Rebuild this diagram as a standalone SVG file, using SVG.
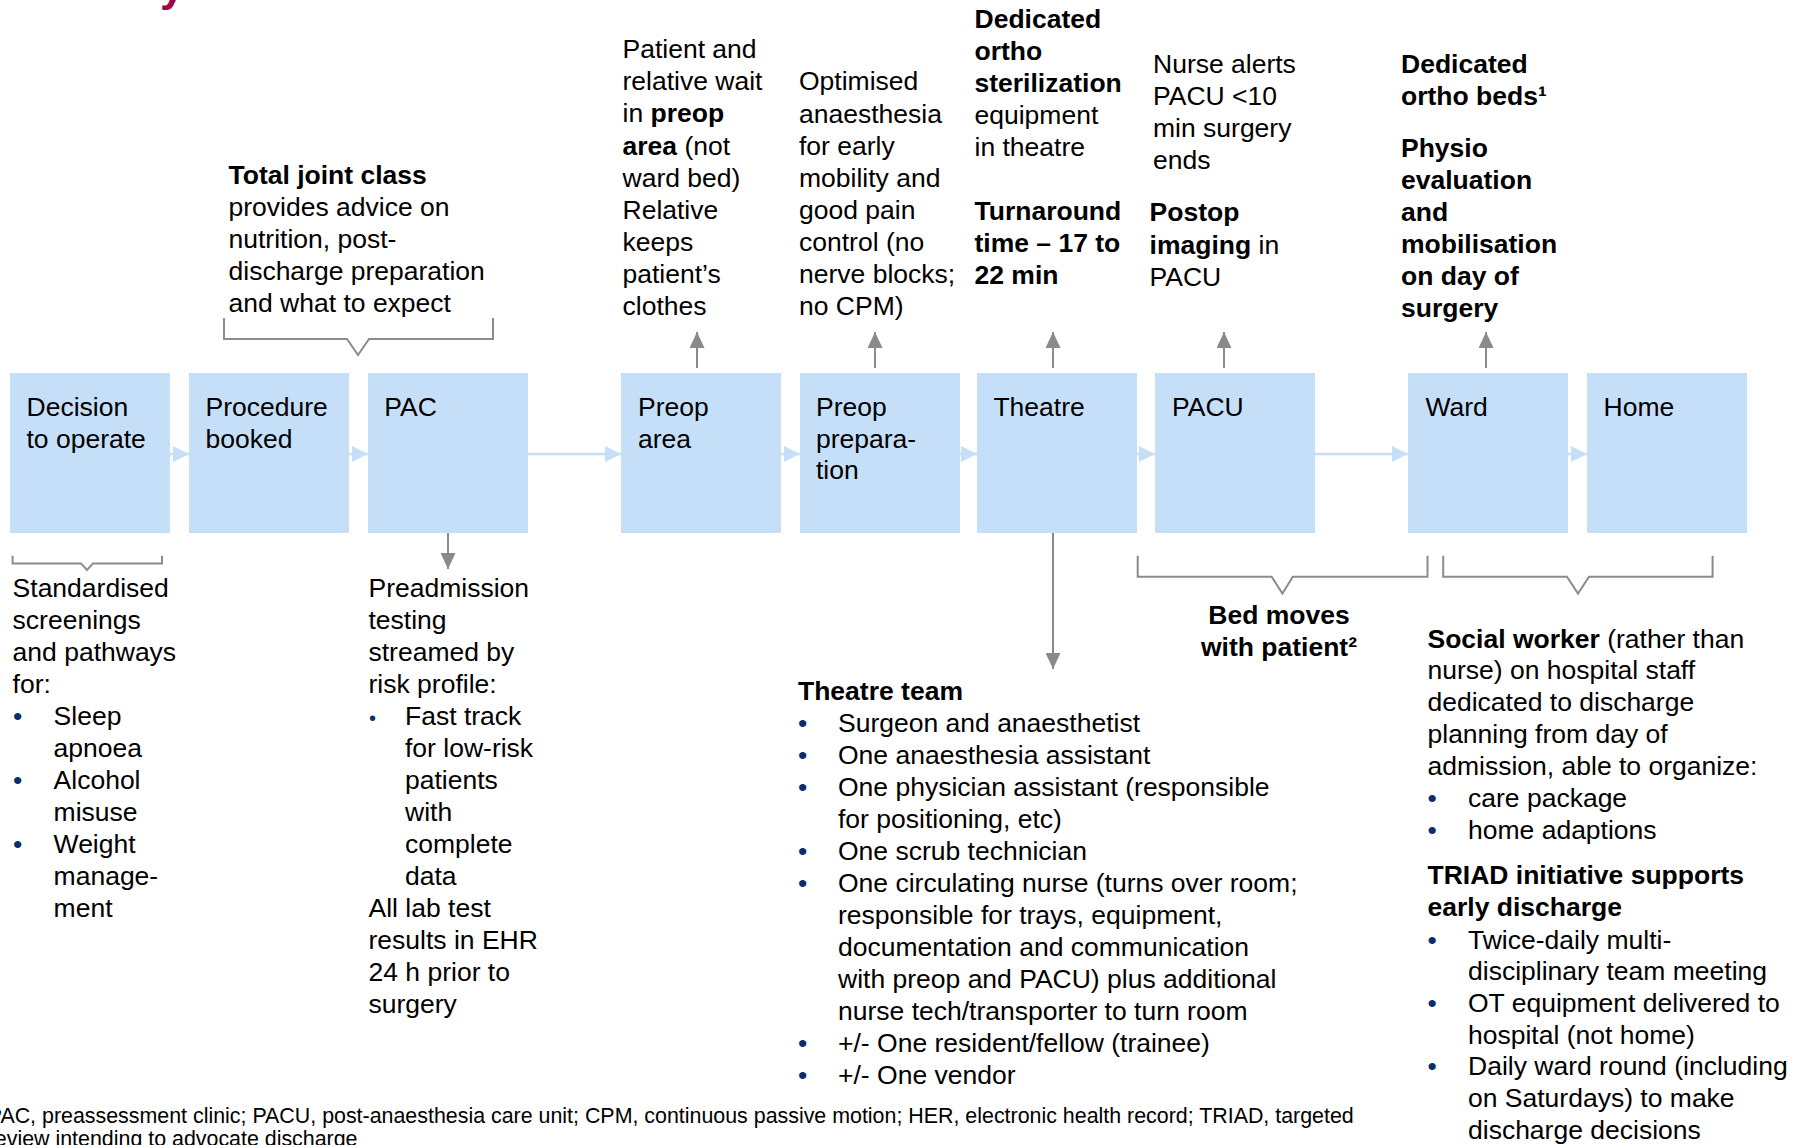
<svg xmlns="http://www.w3.org/2000/svg" width="1799" height="1145" viewBox="0 0 1799 1145">
<defs>
<style>
text{font-family:"Liberation Sans",Arial,Helvetica,sans-serif;font-size:26.5px;fill:#000}
.b{font-weight:bold}
.box{fill:#C6DFF8}
.fn{font-size:21.4px}
.bul{fill:#0B2D6B}
.br{fill:none;stroke:#8C8C8C;stroke-width:2}
.cb{stroke:#C6DFF8;stroke-width:2.5;fill:none}
.cg{stroke:#8A8A8A;stroke-width:2;fill:none}
.title{font-weight:bold;font-size:44px;fill:#990A47}
</style>
<marker id="mb" markerUnits="userSpaceOnUse" markerWidth="16" markerHeight="16" refX="16" refY="8" orient="auto">
<path d="M0,0 L16,8 L0,16 Z" fill="#C6DFF8"/>
</marker>
<marker id="mg" markerUnits="userSpaceOnUse" markerWidth="16" markerHeight="15" refX="16" refY="7.5" orient="auto">
<path d="M0,0 L16,7.5 L0,15 Z" fill="#8A8A8A"/>
</marker>
</defs>

<g id="title-fragment"><text class="title" x="160" y="1">y</text></g>

<g id="connectors">
<line class="cb" x1="170" y1="454" x2="189" y2="454" marker-end="url(#mb)"/>
<line class="cb" x1="349" y1="454" x2="368" y2="454" marker-end="url(#mb)"/>
<line class="cb" x1="528" y1="454" x2="621" y2="454" marker-end="url(#mb)"/>
<line class="cb" x1="781" y1="454" x2="800" y2="454" marker-end="url(#mb)"/>
<line class="cb" x1="960" y1="454" x2="977" y2="454" marker-end="url(#mb)"/>
<line class="cb" x1="1137" y1="454" x2="1155" y2="454" marker-end="url(#mb)"/>
<line class="cb" x1="1315" y1="454" x2="1408" y2="454" marker-end="url(#mb)"/>
<line class="cb" x1="1568" y1="454" x2="1587" y2="454" marker-end="url(#mb)"/>
<line class="cg" x1="697" y1="368" x2="697" y2="332" marker-end="url(#mg)"/>
<line class="cg" x1="875" y1="368" x2="875" y2="332" marker-end="url(#mg)"/>
<line class="cg" x1="1053" y1="368" x2="1053" y2="332" marker-end="url(#mg)"/>
<line class="cg" x1="1224" y1="368" x2="1224" y2="332" marker-end="url(#mg)"/>
<line class="cg" x1="1486" y1="368" x2="1486" y2="332" marker-end="url(#mg)"/>
<line class="cg" x1="448" y1="533" x2="448" y2="569" marker-end="url(#mg)"/>
<line class="cg" x1="1053" y1="533" x2="1053" y2="669" marker-end="url(#mg)"/>
</g>

<g id="brackets">
<path class="br" d="M224,318 V339 H347 L358,355 L369,339 H493 V318"/>
<path class="br" d="M12.6,555.7 V563.4 H81 L87,570 L93,563.4 H162 V555.7"/>
<path class="br" d="M1137.7,555.7 V576.8 H1271.7 L1282.4,593.6 L1292.8,576.8 H1427.5 V555.7"/>
<path class="br" d="M1443.2,555.7 V576.8 H1567 L1578,593.6 L1589,576.8 H1712.6 V555.7"/>
</g>

<g id="node-decision"><rect class="box" x="10" y="373" width="160" height="160"/><text x="26.5" y="416">Decision<tspan x="26.5" y="448">to operate</tspan></text></g>
<g id="node-procedure"><rect class="box" x="189" y="373" width="160" height="160"/><text x="205.6" y="416">Procedure<tspan x="205.6" y="448">booked</tspan></text></g>
<g id="node-pac"><rect class="box" x="368" y="373" width="160" height="160"/><text x="384.3" y="416">PAC</text></g>
<g id="node-preop-area"><rect class="box" x="621" y="373" width="160" height="160"/><text x="638" y="416">Preop<tspan x="638" y="448">area</tspan></text></g>
<g id="node-preop-prep"><rect class="box" x="800" y="373" width="160" height="160"/><text x="816" y="416">Preop<tspan x="816" y="447.5">prepara-</tspan><tspan x="816" y="479">tion</tspan></text></g>
<g id="node-theatre"><rect class="box" x="977" y="373" width="160" height="160"/><text x="993.4" y="416">Theatre</text></g>
<g id="node-pacu"><rect class="box" x="1155" y="373" width="160" height="160"/><text x="1172" y="416">PACU</text></g>
<g id="node-ward"><rect class="box" x="1408" y="373" width="160" height="160"/><text x="1425.5" y="416">Ward</text></g>
<g id="node-home"><rect class="box" x="1587" y="373" width="160" height="160"/><text x="1603.5" y="416">Home</text></g>

<g id="note-total-joint">
<text x="228.5" y="184"><tspan class="b">Total joint class</tspan><tspan x="228.5" y="216">provides advice on</tspan><tspan x="228.5" y="248">nutrition, post-</tspan><tspan x="228.5" y="280">discharge preparation</tspan><tspan x="228.5" y="312">and what to expect</tspan></text>
</g>

<g id="note-preop-area">
<text x="622.5" y="58.2">Patient and<tspan x="622.5" y="90.3">relative wait</tspan><tspan x="622.5" y="122.4">in <tspan class="b">preop</tspan></tspan><tspan x="622.5" y="154.5"><tspan class="b">area</tspan> (not</tspan><tspan x="622.5" y="186.6">ward bed)</tspan><tspan x="622.5" y="218.7">Relative</tspan><tspan x="622.5" y="250.8">keeps</tspan><tspan x="622.5" y="282.9">patient’s</tspan><tspan x="622.5" y="315">clothes</tspan></text>
</g>

<g id="note-preop-prep">
<text x="799" y="90.4">Optimised<tspan x="799" y="122.5">anaesthesia</tspan><tspan x="799" y="154.6">for early</tspan><tspan x="799" y="186.7">mobility and</tspan><tspan x="799" y="218.8">good pain</tspan><tspan x="799" y="250.9">control (no</tspan><tspan x="799" y="283">nerve blocks;</tspan><tspan x="799" y="315.1">no CPM)</tspan></text>
</g>

<g id="note-theatre-top">
<text x="974.5" y="28"><tspan class="b">Dedicated</tspan><tspan class="b" x="974.5" y="60">ortho</tspan><tspan class="b" x="974.5" y="92">sterilization</tspan><tspan x="974.5" y="124">equipment</tspan><tspan x="974.5" y="156">in theatre</tspan><tspan class="b" x="974.5" y="219.6">Turnaround</tspan><tspan class="b" x="974.5" y="251.7">time – 17 to</tspan><tspan class="b" x="974.5" y="283.7">22 min</tspan></text>
</g>

<g id="note-pacu-top">
<text x="1153" y="73">Nurse alerts<tspan x="1153" y="105">PACU &lt;10</tspan><tspan x="1153" y="137">min surgery</tspan><tspan x="1153" y="168.5">ends</tspan></text>
<text x="1149.6" y="221.4"><tspan class="b">Postop</tspan><tspan x="1149.6" y="253.5"><tspan class="b">imaging</tspan> in</tspan><tspan x="1149.6" y="285.6">PACU</tspan></text>
</g>

<g id="note-ward-top">
<text class="b" x="1401" y="73.2">Dedicated<tspan x="1401" y="105.4">ortho beds¹</tspan><tspan x="1401" y="157">Physio</tspan><tspan x="1401" y="189">evaluation</tspan><tspan x="1401" y="221">and</tspan><tspan x="1401" y="253.2">mobilisation</tspan><tspan x="1401" y="285.3">on day of</tspan><tspan x="1401" y="317.4">surgery</tspan></text>
</g>

<g id="note-screenings">
<text x="12.6" y="597.4">Standardised<tspan x="12.6" y="629.4">screenings</tspan><tspan x="12.6" y="661.4">and pathways</tspan><tspan x="12.6" y="693.4">for:</tspan></text>
<text class="bul" x="13" y="725.4">•</text><text class="bul" x="13" y="789.4">•</text><text class="bul" x="13" y="853.4">•</text>
<text x="53.6" y="725.4">Sleep<tspan x="53.6" y="757.4">apnoea</tspan><tspan x="53.6" y="789.4">Alcohol</tspan><tspan x="53.6" y="821.4">misuse</tspan><tspan x="53.6" y="853.4">Weight</tspan><tspan x="53.6" y="885.4">manage-</tspan><tspan x="53.6" y="917.4">ment</tspan></text>
</g>

<g id="note-preadmission">
<text x="368.5" y="597.4">Preadmission<tspan x="368.5" y="629.4">testing</tspan><tspan x="368.5" y="661.4">streamed by</tspan><tspan x="368.5" y="693.4">risk profile:</tspan></text>
<text class="bul" x="369" y="725.4" style="font-size:20px">•</text>
<text x="405" y="725.4">Fast track<tspan x="405" y="757.4">for low-risk</tspan><tspan x="405" y="789.4">patients</tspan><tspan x="405" y="821.4">with</tspan><tspan x="405" y="853.4">complete</tspan><tspan x="405" y="885.4">data</tspan></text>
<text x="368.5" y="917.4">All lab test<tspan x="368.5" y="949.4">results in EHR</tspan><tspan x="368.5" y="981.4">24 h prior to</tspan><tspan x="368.5" y="1013.4">surgery</tspan></text>
</g>

<g id="note-theatre-team">
<text class="b" x="798" y="700">Theatre team</text>
<text class="bul" x="798" y="732">•</text><text class="bul" x="798" y="764">•</text><text class="bul" x="798" y="796">•</text><text class="bul" x="798" y="860">•</text><text class="bul" x="798" y="892">•</text><text class="bul" x="798" y="1052">•</text><text class="bul" x="798" y="1084">•</text>
<text x="838" y="732">Surgeon and anaesthetist<tspan x="838" y="764">One anaesthesia assistant</tspan><tspan x="838" y="796">One physician assistant (responsible</tspan><tspan x="838" y="828">for positioning, etc)</tspan><tspan x="838" y="860">One scrub technician</tspan><tspan x="838" y="892">One circulating nurse (turns over room;</tspan><tspan x="838" y="924">responsible for trays, equipment,</tspan><tspan x="838" y="956">documentation and communication</tspan><tspan x="838" y="988">with preop and PACU) plus additional</tspan><tspan x="838" y="1020">nurse tech/transporter to turn room</tspan><tspan x="838" y="1052">+/- One resident/fellow (trainee)</tspan><tspan x="838" y="1084">+/- One vendor</tspan></text>
</g>

<g id="note-bed-moves">
<text class="b" x="1279" y="623.5" text-anchor="middle">Bed moves<tspan x="1279" y="655.5">with patient²</tspan></text>
</g>

<g id="note-discharge">
<text x="1427.5" y="647.6"><tspan class="b">Social worker</tspan> (rather than<tspan x="1427.5" y="679.4">nurse) on hospital staff</tspan><tspan x="1427.5" y="711.2">dedicated to discharge</tspan><tspan x="1427.5" y="743">planning from day of</tspan><tspan x="1427.5" y="774.8">admission, able to organize:</tspan></text>
<text class="bul" x="1427.5" y="807">•</text><text class="bul" x="1427.5" y="839">•</text>
<text x="1468" y="807">care package<tspan x="1468" y="839">home adaptions</tspan></text>
<text class="b" x="1427.5" y="883.7">TRIAD initiative supports<tspan x="1427.5" y="915.5">early discharge</tspan></text>
<text class="bul" x="1427.5" y="948.6">•</text><text class="bul" x="1427.5" y="1012">•</text><text class="bul" x="1427.5" y="1075.3">•</text>
<text x="1468" y="948.6">Twice-daily multi-<tspan x="1468" y="980.3">disciplinary team meeting</tspan><tspan x="1468" y="1012">OT equipment delivered to</tspan><tspan x="1468" y="1043.6">hospital (not home)</tspan><tspan x="1468" y="1075.3">Daily ward round (including</tspan><tspan x="1468" y="1107">on Saturdays) to make</tspan><tspan x="1468" y="1138.6">discharge decisions</tspan></text>
</g>

<g id="footnote">
<text class="fn" x="-12.3" y="1123">PAC, preassessment clinic; PACU, post-anaesthesia care unit; CPM, continuous passive motion; HER, electronic health record; TRIAD, targeted<tspan x="-12.3" y="1146">review intending to advocate discharge</tspan></text>
</g>
</svg>
